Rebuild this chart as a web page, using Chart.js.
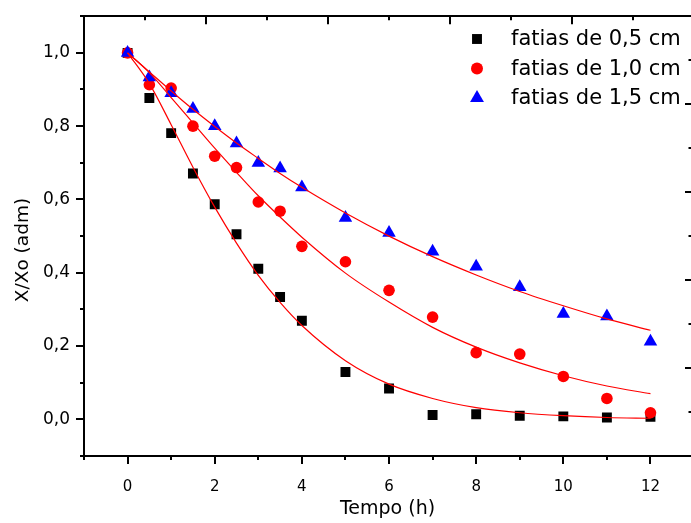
<!DOCTYPE html>
<html>
<head>
<meta charset="utf-8">
<title>Cinética de secagem</title>
<script src="https://cdn.jsdelivr.net/npm/chart.js@4.4.1/dist/chart.umd.min.js"></script>
<style>
  html, body { margin: 0; padding: 0; background: #fff; overflow: hidden; }
  canvas { display: block; }
</style>
</head>
<body>
<canvas id="chart" width="691" height="523"></canvas>
<script>
// Measured drying data: time (h) and moisture ratio X/Xo for each slice thickness
const tempo = [0, 0.5, 1, 1.5, 2, 2.5, 3, 3.5, 4, 5, 6, 7, 8, 9, 10, 11, 12];
const fatias05 = [1.000, 0.877, 0.781, 0.671, 0.587, 0.505, 0.411, 0.334, 0.269, 0.129, 0.084, 0.012, 0.014, 0.010, 0.008, 0.005, 0.007];
const fatias10 = [1.000, 0.913, 0.904, 0.800, 0.718, 0.687, 0.593, 0.568, 0.472, 0.430, 0.352, 0.279, 0.182, 0.178, 0.117, 0.057, 0.018];
const fatias15 = [1.000, 0.933, 0.890, 0.847, 0.800, 0.753, 0.700, 0.685, 0.633, 0.550, 0.509, 0.458, 0.417, 0.361, 0.288, 0.281, 0.212];

// Fitted curves, sampled along the time axis
const tempoAjuste = [0, 0.5, 1, 1.5, 2, 2.5, 3, 3.5, 4, 5, 6, 7, 8, 9, 10, 11, 12];
const ajuste05 = [1.000, 0.916, 0.804, 0.688, 0.579, 0.481, 0.393, 0.319, 0.256, 0.160, 0.096, 0.057, 0.032, 0.018, 0.010, 0.005, 0.003];
const ajuste10 = [1.000, 0.946, 0.878, 0.809, 0.740, 0.674, 0.610, 0.552, 0.497, 0.399, 0.320, 0.251, 0.197, 0.154, 0.119, 0.091, 0.070];
const ajuste15 = [1.000, 0.948, 0.896, 0.846, 0.799, 0.754, 0.712, 0.671, 0.633, 0.563, 0.500, 0.444, 0.394, 0.349, 0.310, 0.274, 0.243];

const seriesLabels = ['fatias de 0,5 cm', 'fatias de 1,0 cm', 'fatias de 1,5 cm'];

// Axis tick labels
const xTickValues = [0, 2, 4, 6, 8, 10, 12];
const xTickLabels = ['0', '2', '4', '6', '8', '10', '12'];
const yTickValues = [0.0, 0.2, 0.4, 0.6, 0.8, 1.0];
const yTickLabels = ['0,0', '0,2', '0,4', '0,6', '0,8', '1,0'];

const FONT = 'DejaVu Sans';
const pts = (xs, ys) => xs.map((x, i) => ({ x: x, y: ys[i] }));

function markerSet(label, data, color, style, radius, order) {
  return {
    label: label,
    data: pts(tempo, data),
    backgroundColor: color,
    borderColor: color,
    borderWidth: 0,
    pointStyle: style,
    pointRadius: radius,
    pointHoverRadius: radius,
    showLine: false,
    order: order
  };
}

function fitSet(data) {
  return {
    label: '',
    data: pts(tempoAjuste, data),
    borderColor: '#ff0000',
    borderWidth: 1.2,
    pointRadius: 0,
    pointHoverRadius: 0,
    showLine: true,
    fill: false,
    cubicInterpolationMode: 'monotone',
    isFit: true,
    order: 0
  };
}

// Minor/major tick marks on all four sides plus the legend and the rotated y title
const frameDecor = {
  id: 'frameDecor',
  afterDraw(chart) {
    const ctx = chart.ctx;
    const a = chart.chartArea;
    const sx = chart.scales.x, sy = chart.scales.y;
    const sx2 = chart.scales.x2, sy2 = chart.scales.y2;
    ctx.save();
    ctx.strokeStyle = '#000';
    ctx.lineWidth = 2;
    ctx.beginPath();
    sx.ticks.forEach(t => {
      const p = Math.round(sx.getPixelForValue(t.value));
      const len = t.label !== '' ? 8 : 4;
      ctx.moveTo(p, a.bottom); ctx.lineTo(p, a.bottom + len);
    });
    sy.ticks.forEach(t => {
      const p = Math.round(sy.getPixelForValue(t.value));
      const len = t.label !== '' ? 8 : 4;
      ctx.moveTo(a.left, p); ctx.lineTo(a.left - len, p);
    });
    sx2.ticks.forEach(t => {
      const p = Math.round(sx2.getPixelForValue(t.value));
      const len = Math.round(t.value) % 2 === 0 ? 8 : 4;
      ctx.moveTo(p, a.top); ctx.lineTo(p, a.top + len);
    });
    sy2.ticks.forEach(t => {
      const p = Math.round(sy2.getPixelForValue(t.value));
      const len = Math.round(t.value) % 2 === 0 ? 6 : 2.5;
      ctx.moveTo(a.right, p); ctx.lineTo(a.right - len, p);
    });
    ctx.stroke();

    // y axis title
    ctx.fillStyle = '#000';
    ctx.font = '18.5px "' + FONT + '"';
    ctx.textAlign = 'center';
    ctx.textBaseline = 'middle';
    ctx.translate(23, 250);
    ctx.rotate(-Math.PI / 2);
    ctx.fillText('X/Xo (adm)', 0, 0);
    ctx.restore();

    // legend
    ctx.save();
    const H = Chart.helpers;
    ctx.font = '21px "' + FONT + '"';
    ctx.textAlign = 'left';
    ctx.textBaseline = 'middle';
    const items = chart.data.datasets.filter(d => !d.isFit);
    items.forEach((d, i) => {
      const cy = 39 + i * 29.5;
      ctx.fillStyle = d.backgroundColor;
      ctx.strokeStyle = d.borderColor;
      H.drawPoint(ctx, { pointStyle: d.pointStyle, radius: d.legendRadius || d.pointRadius, rotation: 0, borderWidth: 0 }, 477, cy);
      ctx.fillStyle = '#000';
      ctx.fillText(d.label, 511, cy + 1);
    });
    ctx.restore();
  }
};

const dsBlack = markerSet(seriesLabels[0], fatias05, '#000000', 'rect', 7, 3);
const dsRed = markerSet(seriesLabels[1], fatias10, '#ff0000', 'circle', 5.8, 2);
const dsBlue = markerSet(seriesLabels[2], fatias15, '#0000ff', 'triangle', 7.8, 1);
dsRed.legendRadius = 6;
dsBlue.legendRadius = 8;

new Chart(document.getElementById('chart'), {
  type: 'scatter',
  data: {
    datasets: [dsBlack, dsRed, dsBlue, fitSet(ajuste05), fitSet(ajuste10), fitSet(ajuste15)]
  },
  options: {
    responsive: false,
    animation: false,
    events: [],
    layout: { autoPadding: false, padding: { top: 13, right: 0, left: 0, bottom: 0 } },
    plugins: {
      legend: { display: false },
      tooltip: { enabled: false }
    },
    scales: {
      x: {
        type: 'linear',
        position: 'bottom',
        min: -1,
        max: 12.93,
        afterFit: s => { s.height = 67; s.paddingRight = 0; },
        grid: { display: false },
        border: { display: true, color: '#000', width: 2 },
        ticks: {
          stepSize: 1,
          includeBounds: false,
          autoSkip: false,
          maxRotation: 0,
          padding: 14,
          color: '#000',
          font: { family: FONT, size: 15 },
          callback: v => {
            const i = xTickValues.findIndex(t => Math.abs(t - v) < 1e-6);
            return i >= 0 ? xTickLabels[i] : '';
          }
        },
        title: {
          display: true,
          text: 'Tempo (h)',
          color: '#000',
          font: { family: FONT, size: 19 },
          padding: { top: 0, bottom: 3 }
        }
      },
      y: {
        type: 'linear',
        position: 'left',
        min: -0.1,
        max: 1.1,
        afterFit: s => { s.width = 84; },
        grid: { display: false },
        border: { display: true, color: '#000', width: 2 },
        ticks: {
          stepSize: 0.1,
          autoSkip: false,
          padding: 6,
          color: '#000',
          font: { family: FONT, size: 17 },
          callback: v => {
            const i = yTickValues.findIndex(t => Math.abs(t - v) < 1e-6);
            return i >= 0 ? yTickLabels[i] : '';
          }
        }
      },
      x2: {
        type: 'linear',
        position: 'top',
        min: 0,
        max: 9.95,
        afterFit: s => { s.height = 0; s.paddingRight = 0; },
        grid: { display: false },
        border: { display: true, color: '#000', width: 2 },
        ticks: { display: false, stepSize: 1, includeBounds: false, autoSkip: false }
      },
      y2: {
        type: 'linear',
        position: 'right',
        min: 0,
        max: 10,
        afterFit: s => { s.width = 0; },
        grid: { display: false },
        border: { display: false },
        ticks: { display: false, stepSize: 1, autoSkip: false }
      }
    }
  },
  plugins: [frameDecor]
});
</script>
</body>
</html>
